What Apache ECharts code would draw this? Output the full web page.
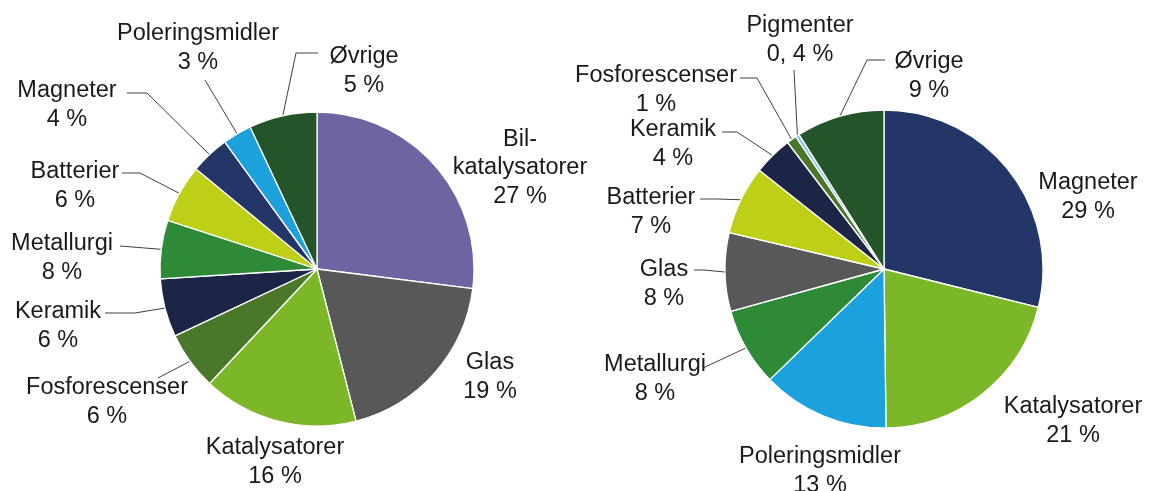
<!DOCTYPE html>
<html><head><meta charset="utf-8">
<script src="https://cdn.jsdelivr.net/npm/echarts@6/dist/echarts.min.js"></script>
<style>html,body{margin:0;padding:0;background:#fff}#c{width:1149px;height:491px}</style>
</head><body><div id="c"></div>
<script>
// ---- data ----
const leftCategories = ['Bil-katalysatorer','Glas','Katalysatorer','Fosforescenser','Keramik','Metallurgi','Batterier','Magneter','Poleringsmidler','Øvrige'];
const leftValues = [27, 19, 16, 6, 6, 6, 6, 4, 3, 7];
const leftLabels = ['27 %','19 %','16 %','6 %','6 %','8 %','6 %','4 %','3 %','5 %'];

const rightCategories = ['Magneter','Katalysatorer','Poleringsmidler','Metallurgi','Glas','Batterier','Keramik','Fosforescenser','Pigmenter','Øvrige'];
const rightValues = [29, 21, 13, 8, 8, 7, 4, 1, 0.4, 9];
const rightLabels = ['29 %','21 %','13 %','8 %','8 %','7 %','4 %','1 %','0, 4 %','9 %'];

// ---- styles ----
const colorOf = {
  'Bil-katalysatorer':'#6D64A1','Glas':'#585858','Katalysatorer':'#7CB72A','Fosforescenser':'#4B772B',
  'Keramik':'#1D2546','Metallurgi':'#2F8A37','Batterier':'#BDD017','Magneter':'#243568',
  'Poleringsmidler':'#1BA1DB','Pigmenter':'#8EC5E3','Øvrige':'#23542A'
};

// ---- label layout (pixel positions of label blocks and leader lines) ----
const leftLabelPos = [[520,168],[490,377],[275,462],[107,402],[58,326],[62,258],[75,186],[67,105],[198,48],[364,71]];
const leftLineStart = [null,null,null,[158,378],[105,313],[120,246],[122,173],[127,93],[205,80],[318,53]];
const leftLineElbow = [null,null,null,null,[135,313],null,[140,173],[147,93],null,[296,53]];

const rightLabelPos = [[1088,197],[1073,421],[820,471],[655,379],[664,284],[651,212],[673,144],[656,90],[800,40],[929,76]];
const rightLineStart = [null,null,null,[703,368],[694,270],[700,199],[722,132],[740,78],[794,70],[885,60]];
const rightLineElbow = [null,null,null,null,[704,270],[717,199],[737,132],[757,78],null,[867,60]];

function makeLayout(pos, start, elbow) {
  return function (p) {
    const i = p.dataIndex;
    const o = { x: pos[i][0], y: pos[i][1], align: 'center', verticalAlign: 'middle' };
    if (start[i] && p.labelLinePoints && p.labelLinePoints.length) {
      const a = p.labelLinePoints[0];
      const e = elbow[i] || start[i];
      o.labelLinePoints = [a, e, start[i]];
    }
    return o;
  };
}

function makeData(cats, vals, starts) {
  return cats.map((c, i) => ({
    name: c,
    value: vals[i],
    itemStyle: { color: colorOf[c] },
    labelLine: { show: !!starts[i] }
  }));
}

function makeSeries(cats, vals, labels, center, radius, pos, start, elbow) {
  return {
    type: 'pie',
    center: center,
    radius: radius,
    startAngle: 90,
    clockwise: true,
    avoidLabelOverlap: false,
    animation: false,
    silent: true,
    itemStyle: { borderColor: '#ffffff', borderWidth: 1.3 },
    label: {
      show: true,
      position: 'outside',
      fontFamily: '"Liberation Sans", Arial, sans-serif',
      fontSize: 23.5,
      lineHeight: 28.5,
      color: '#1a1a1a',
      formatter: function (p) {
        return p.name.replace('Bil-', 'Bil-\n') + '\n' + labels[p.dataIndex];
      }
    },
    labelLine: { show: true, length: 10, length2: 10, lineStyle: { color: '#404040', width: 1 } },
    labelLayout: makeLayout(pos, start, elbow),
    data: makeData(cats, vals, start)
  };
}

const chart = echarts.init(document.getElementById('c'), null, { renderer: 'canvas' });
chart.setOption({
  backgroundColor: '#ffffff',
  animation: false,
  series: [
    makeSeries(leftCategories, leftValues, leftLabels, [317, 269], 157, leftLabelPos, leftLineStart, leftLineElbow),
    makeSeries(rightCategories, rightValues, rightLabels, [884, 269], 159, rightLabelPos, rightLineStart, rightLineElbow)
  ]
});
</script>
</body></html>
